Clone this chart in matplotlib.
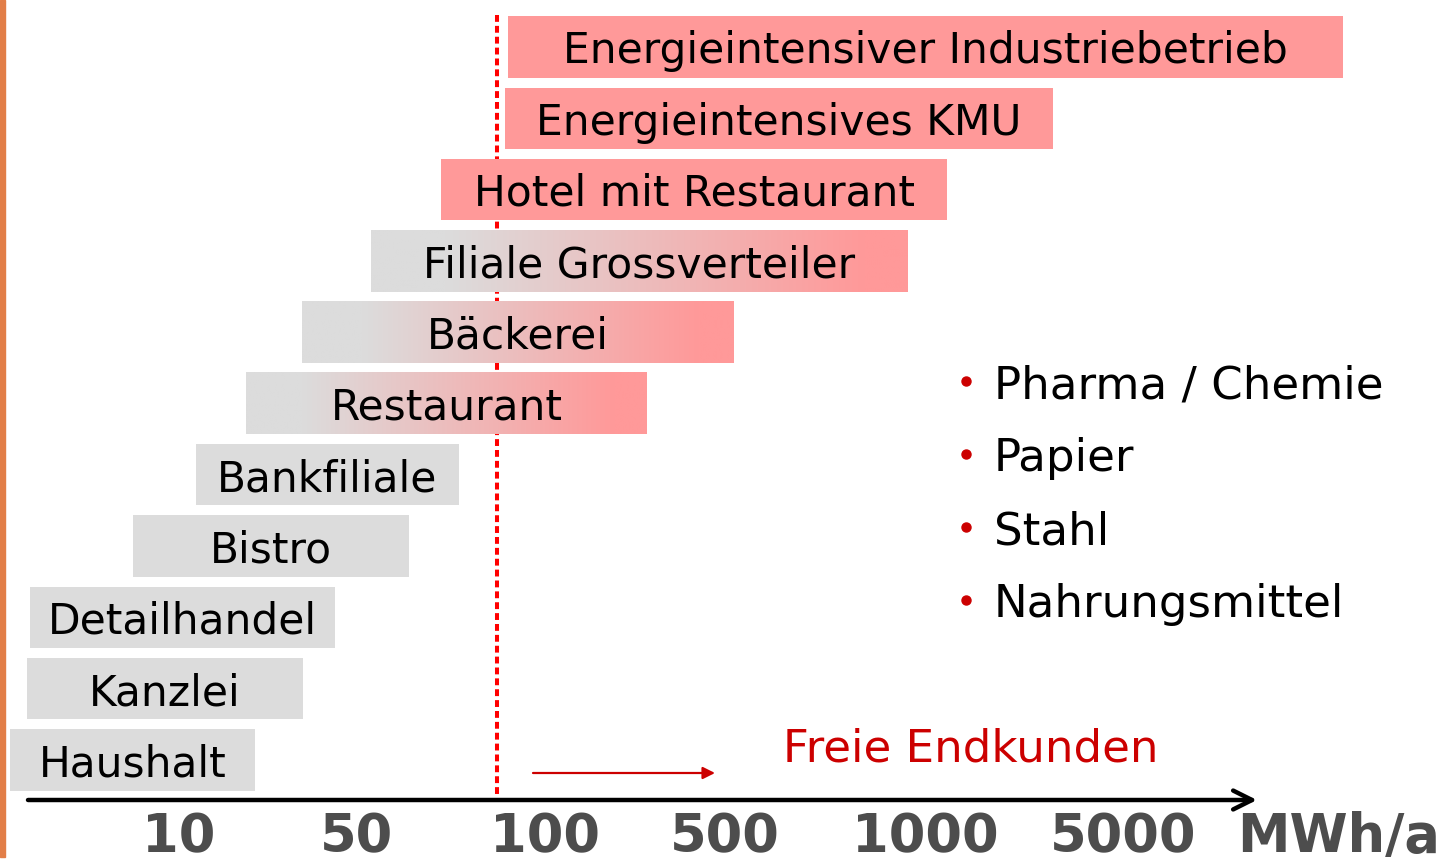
import numpy as np
import matplotlib
matplotlib.use("Agg")
import matplotlib.pyplot as plt
from matplotlib.colors import LinearSegmentedColormap
from matplotlib.patches import Rectangle

# consumers, top to bottom; range along the consumption axis (axis position units)
labels = ["Energieintensiver Industriebetrieb", "Energieintensives KMU",
          "Hotel mit Restaurant", "Filiale Grossverteiler", "Bäckerei",
          "Restaurant", "Bankfiliale", "Bistro", "Detailhandel", "Kanzlei",
          "Haushalt"]
bar_start = [508, 505, 441, 371, 302, 246, 196, 133, 30, 27, 10]
bar_end = [1343, 1053, 947, 908, 734, 647, 459, 409, 335, 303, 255]
# 'pink' = free end customer, 'grey' = captive, 'grad' = in between
kind = ["pink", "pink", "pink", "grad", "grad", "grad",
        "grey", "grey", "grey", "grey", "grey"]

tick_labels = ["10", "50", "100", "500", "1000", "5000"]
tick_pos = [179, 357, 545, 725, 925, 1123]
unit_label = "MWh/a"
threshold = 497  # 100 MWh/a market opening

sectors = ["Pharma / Chemie", "Papier", "Stahl", "Nahrungsmittel"]

GREY = "#dcdcdc"
PINK = "#ff9999"
RED = "#cc0000"
TXT = "#4d4d4d"

fig = plt.figure(figsize=(14.56, 8.67), dpi=100)
ax = fig.add_axes([0, 0, 1, 1])
ax.set_xlim(0, 1456)
# row i sits at pixel 47 + 71.3*i
ax.set_ylim((867 - 47) / 71.3, -47 / 71.3)
ax.axis("off")

grad_cmap = LinearSegmentedColormap.from_list(
    "gp", [(0, GREY), (0.14, GREY), (0.92, PINK), (1, PINK)])
solid = {"pink": PINK, "grey": GREY}
h = 0.86
for i, (lab, x0, x1, k) in enumerate(zip(labels, bar_start, bar_end, kind)):
    if k == "grad":
        g = np.linspace(0, 1, 256).reshape(1, -1)
        ax.imshow(g, cmap=grad_cmap, aspect="auto", interpolation="bilinear",
                  extent=[x0, x1, i + h / 2, i - h / 2], zorder=2)
    else:
        ax.barh(i, x1 - x0, left=x0, height=h, color=solid[k],
                edgecolor="none", zorder=2)
    ax.text((x0 + x1) / 2, i + 0.23, lab, ha="center", va="baseline",
            fontsize=30.5, color="black", zorder=4)

# threshold line, behind the bars
ax.plot([threshold, threshold], [-0.45, (800 - 47) / 71.3], color="red",
        lw=2.9, linestyle=(0, (1.7, 1.0)), zorder=1)

# consumption axis
y_axis = (800 - 47) / 71.3
ax.annotate("", xy=(1257, y_axis), xytext=(28, y_axis),
            arrowprops=dict(arrowstyle="->", lw=3.2, color="black",
                            mutation_scale=34, shrinkA=0, shrinkB=0))
y_ticks = (852 - 47) / 71.3
for lab, x in zip(tick_labels, tick_pos):
    ax.text(x, y_ticks, lab, ha="center", va="baseline", fontsize=38,
            fontweight="bold", color=TXT)
ax.text(1339, y_ticks, unit_label, ha="center", va="baseline", fontsize=38,
        fontweight="bold", color=TXT)

# free customers arrow
y_arr = (773 - 47) / 71.3
ax.annotate("", xy=(715, y_arr), xytext=(533, y_arr),
            arrowprops=dict(arrowstyle="-|>", lw=1.6, color=RED,
                            mutation_scale=18, shrinkA=0, shrinkB=0))
ax.text(783, (762 - 47) / 71.3, "Freie Endkunden", ha="left", va="baseline",
        fontsize=32.5, color=RED)

# bullet list
for j, s in enumerate(sectors):
    y = (381 + 73 * j - 47) / 71.3
    ax.plot(966, y, "o", color=RED, ms=6.5)
    ax.text(994, y + 0.24, s, ha="left", va="baseline", fontsize=32.5,
            color="black")

# orange edge strip on the slide
fig.add_artist(Rectangle((0, 0.012), 0.0033, 0.988, transform=fig.transFigure,
                         color="#e27e48"))

fig.savefig("out.png", dpi=100)
